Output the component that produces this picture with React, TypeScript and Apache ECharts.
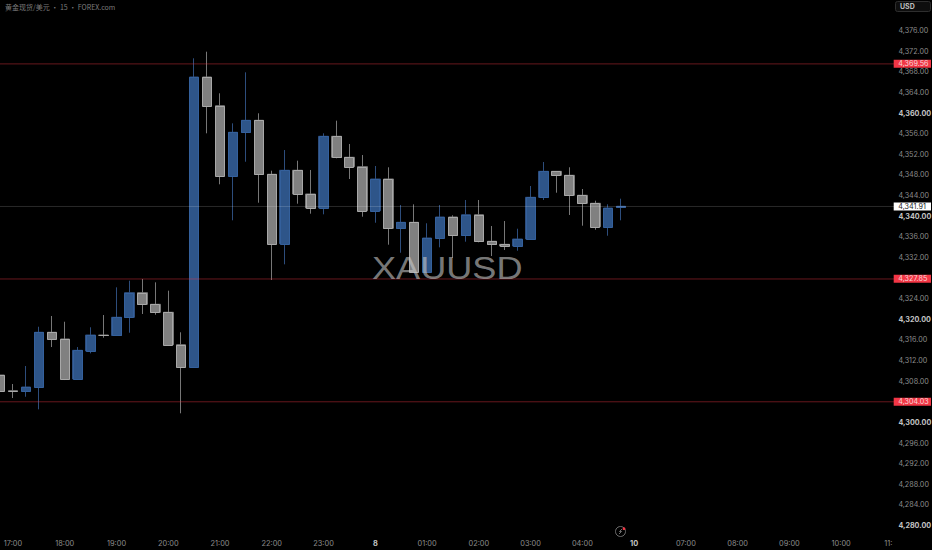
import React, { useEffect, useRef } from "react";
import * as echarts from "echarts";

const categories = [
  "16:45","17:00","17:15","17:30","17:45","18:00","18:15","18:30","18:45","19:00",
  "19:15","19:30","19:45","20:00","20:15","20:30","20:45","21:00","21:15","21:30",
  "21:45","22:00","22:15","22:30","22:45","23:00","23:15","23:30","23:45","00:00",
  "00:15","00:30","00:45","01:00","01:15","01:30","01:45","02:00","02:15","02:30",
  "02:45","03:00","03:15","03:30","03:45","04:00","04:15","04:30","04:45","06:00",
  "06:15","06:30","06:45","07:00","07:15","07:30","07:45","08:00","08:15","08:30",
  "08:45","09:00","09:15","09:30","09:45","10:00","10:15","10:30","10:45","11:00",
];
const timeTicks: Record<string, string> = {
  "17:00":"17:00","18:00":"18:00","19:00":"19:00","20:00":"20:00","21:00":"21:00","22:00":"22:00",
  "23:00":"23:00","00:00":"8","01:00":"01:00","02:00":"02:00","03:00":"03:00","04:00":"04:00",
  "06:00":"10","07:00":"07:00","08:00":"08:00","09:00":"09:00","10:00":"10:00","11:00":"11:",
};
const opens = [4309.18,4306.14,4306.08,4306.86,4317.47,4316.17,4308.41,4313.84,4316.94,4316.85,4320.38,4325.15,4322.90,4321.35,4315.06,4310.74,4366.98,4361.41,4347.84,4356.26,4358.58,4348.11,4334.65,4348.89,4344.29,4341.57,4355.48,4351.41,4349.59,4341.05,4347.20,4337.64,4338.80,4329.22,4335.76,4339.83,4336.28,4340.27,4335.12,4334.53,4334.20,4335.56,4343.65,4348.69,4347.92,4344.04,4342.49,4337.95,4341.70];
const closes = [4306.14,4306.05,4306.86,4317.47,4316.17,4308.41,4313.97,4316.94,4316.85,4320.38,4325.15,4322.90,4321.35,4315.06,4310.74,4366.98,4361.41,4347.84,4356.26,4358.58,4348.11,4334.65,4348.89,4344.29,4341.57,4355.48,4351.41,4349.59,4341.05,4347.20,4337.64,4338.80,4329.22,4335.76,4339.83,4336.28,4340.27,4335.12,4334.53,4334.20,4335.56,4343.65,4348.69,4347.92,4344.04,4342.49,4337.95,4341.57,4341.91];
const highs = [4309.2,4307.44,4310.93,4318.55,4320.63,4319.52,4314.61,4318.44,4320.82,4326.19,4327.47,4327.80,4327.16,4325.54,4317.47,4370.61,4371.89,4363.82,4358.00,4367.89,4359.94,4348.81,4352.82,4350.75,4348.95,4356.06,4358.51,4353.99,4351.85,4349.72,4349.47,4342.16,4342.29,4338.61,4342.16,4340.16,4343.13,4343.13,4338.08,4339.05,4337.56,4345.84,4350.50,4348.75,4349.47,4345.26,4342.99,4342.29,4343.38];
const lows = [4306.1,4304.72,4304.97,4302.53,4314.61,4308.21,4308.41,4313.39,4316.42,4316.85,4317.39,4321.02,4320.88,4314.96,4301.76,4310.74,4356.06,4346.17,4339.19,4350.55,4342.60,4327.61,4330.65,4342.41,4340.47,4340.35,4351.21,4347.20,4339.89,4338.72,4334.46,4332.90,4329.20,4329.22,4333.95,4331.88,4335.04,4334.92,4332.26,4333.43,4333.29,4335.56,4343.13,4344.54,4340.22,4338.14,4337.36,4336.20,4339.19];
const redLevels = [4369.56, 4327.85, 4304.03];
const lastPrice = 4341.91;
const titleText = "黄金现货/美元 • 15 • FOREX.com";
const watermark = "XAUUSD";
const currency = "USD";

const fmt = (v: number) =>
  v.toLocaleString("en-US", { minimumFractionDigits: 2, maximumFractionDigits: 2 });

const UI_FONT = "Inter, 'Noto Sans', sans-serif";

const levelSeries = (levels: number[], lineColor: string, boxColor: string, textColor: string) => ({
  type: "custom",
  z: 6,
  silent: true,
  data: levels.map((v) => [0, v]),
  encode: { x: 0, y: 1 },
  renderItem: (params: any, api: any) => {
    const value = api.value(1);
    const y = api.coord([0, value])[1] + 0.2;
    return {
      type: "group",
      children: [
        { type: "line", shape: { x1: 0, y1: y, x2: 894, y2: y }, style: { stroke: lineColor, lineWidth: 1 } },
        { type: "rect", shape: { x: 893.7, y: y - 4.1, width: 37.3, height: 8 }, style: { fill: boxColor } },
        {
          type: "text",
          style: {
            text: fmt(value),
            x: 898.3,
            y: y - 0.1,
            fill: textColor,
            fontFamily: UI_FONT,
            fontSize: 7.2,
            verticalAlign: "middle",
          },
        },
      ],
    };
  },
});

export default function App() {
  const ref = useRef<HTMLDivElement>(null);
  useEffect(() => {
    const chart = echarts.init(ref.current!, null, { renderer: "svg" });
    chart.setOption({
      animation: false,
      backgroundColor: "#000000",
      grid: { left: -6.41, width: 905.8, top: 30.5, height: 495, containLabel: false, outerBoundsMode: "none" },
      xAxis: {
        type: "category",
        data: categories,
        boundaryGap: true,
        axisLine: { show: false },
        axisTick: { show: false },
        splitLine: { show: false },
        axisLabel: {
          interval: (_: number, v: string) => v in timeTicks,
          margin: 14,
          hideOverlap: false,
          formatter: (v: string) => {
            const t = timeTicks[v] ?? "";
            if (t === "11:") return `{cut|${t}}`;
            if (t.length < 3) return `{strong|${t}}`;
            return `{norm|${t}}`;
          },
          rich: {
            norm: { fontFamily: UI_FONT, fontSize: 7.4, color: "#8c8c8c" },
            strong: { fontFamily: UI_FONT, fontSize: 7.4, fontWeight: "bold", color: "#c4c4c4" },
            cut: { fontFamily: UI_FONT, fontSize: 7.4, color: "#8c8c8c", padding: [0, 9, 0, 0] },
          },
        },
      },
      yAxis: {
        type: "value",
        position: "right",
        min: 4280,
        max: 4376,
        interval: 4,
        scale: true,
        axisLine: { show: false },
        axisTick: { show: false },
        splitLine: { show: false },
        axisLabel: {
          margin: -1,
          align: "left",
          formatter: (v: number) => (v % 20 === 0 ? `{strong|${fmt(v)}}` : `{norm|${fmt(v)}}`),
          rich: {
            norm: { fontFamily: UI_FONT, fontSize: 7.2, color: "#8c8c8c" },
            strong: { fontFamily: UI_FONT, fontSize: 7.2, fontWeight: "bold", color: "#c4c4c4" },
          },
        },
      },
      series: [
        {
          type: "candlestick",
          barWidth: 10,
          z: 3,
          data: opens.map((o, i) => [o, closes[i], lows[i], highs[i]]),
          itemStyle: {
            color: "#2e5589",
            color0: "#808080",
            borderColor: "#2d4d7c",
            borderColor0: "#777777",
            borderColorDoji: "#777777",
            borderWidth: 1,
          },
        },
        {
          type: "custom",
          z: 4,
          silent: true,
          data: opens.map((o, i) => [i, o, closes[i]]),
          encode: { x: 0, y: [1, 2] },
          renderItem: (_: any, api: any) => {
            const o = api.value(1);
            const c = api.value(2);
            const [cx, yo] = api.coord([api.value(0), o]);
            const yc = api.coord([api.value(0), c])[1];
            const top = Math.round(Math.min(yo, yc));
            const bot = Math.round(Math.max(yo, yc));
            const up = c > o;
            return {
              type: "rect",
              shape: { x: Math.round(cx - 5) + 0.5, y: top + 0.5, width: 9, height: bot - top },
              style: { fill: up ? "#2e5589" : "#808080", stroke: up ? "#34609c" : "#a8a8a8", lineWidth: 1 },
            };
          },
        },
        levelSeries(redLevels, "rgba(242,54,69,0.42)", "#f23645", "#f7d6d9"),
        levelSeries([lastPrice], "rgba(255,255,255,0.16)", "#ffffff", "#222222"),
      ],
      graphic: [
        {
          type: "text",
          x: 5,
          y: 3.5,
          z: 20,
          style: { text: titleText, fontFamily: "'Noto Sans CJK SC', serif", fontSize: 7, fill: "#7c7c7c" },
        },
        { type: "rect", x: 895.5, y: 1.5, z: 20, shape: { width: 35, height: 10, r: 2 }, style: { fill: "#0e0e0e", stroke: "#2e2e2e", lineWidth: 1 } },
        {
          type: "text",
          x: 900,
          y: 3,
          z: 21,
          style: { text: currency, fontFamily: UI_FONT, fontSize: 7, fontWeight: "bold", fill: "#bdbdbd" },
        },
        {
          type: "text",
          x: 372,
          y: 253,
          z: 30,
          scaleX: 1.165,
          style: { text: watermark, fontFamily: "'Liberation Sans', sans-serif", fontSize: 31, fill: "rgba(200,200,200,0.62)" },
        },
        { type: "circle", x: 620.5, y: 531.5, z: 20, shape: { r: 5 }, style: { fill: "none", stroke: "#6e6e6e", lineWidth: 1 } },
        { type: "polyline", z: 20, shape: { points: [[622, 529], [619.5, 531.5], [621.5, 531.5], [619, 534]] }, style: { fill: "none", stroke: "#8a8a8a", lineWidth: 0.8 } },
        { type: "circle", x: 624, y: 528.7, z: 21, shape: { r: 1.4 }, style: { fill: "#f23645" } },
      ],
    });
    return () => chart.dispose();
  }, []);
  return (
    <div
      ref={ref}
      style={{ position: "fixed", left: 0, top: 0, width: 932, height: 550, background: "#000" }}
    />
  );
}
